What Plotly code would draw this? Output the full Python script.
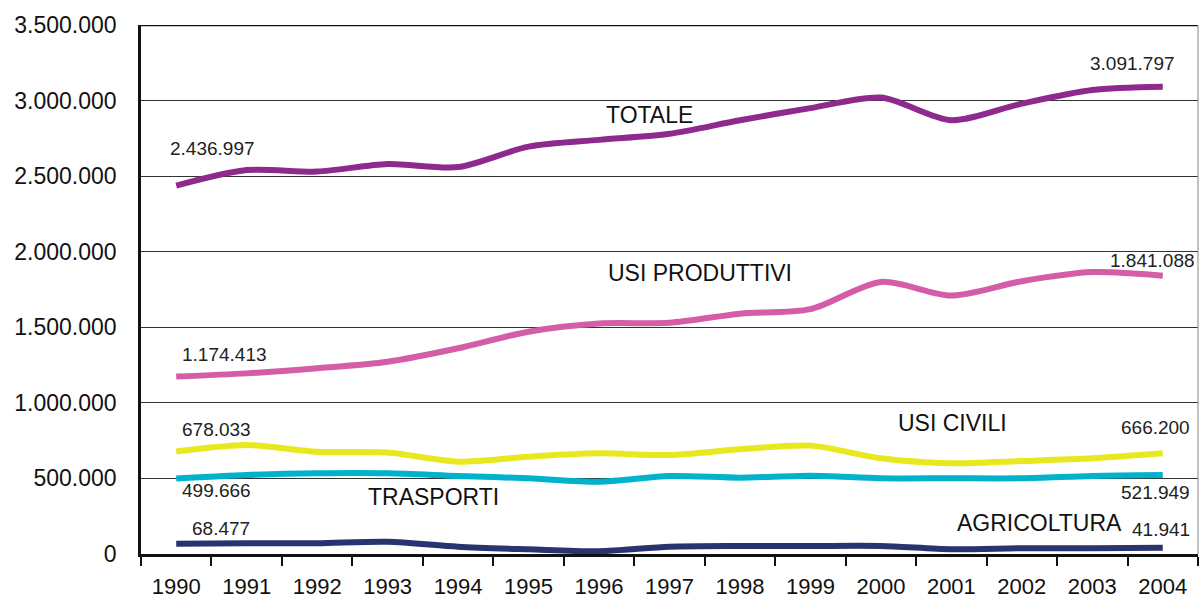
import plotly.graph_objects as go

years = [str(y) for y in range(1990, 2005)]

totale = [2436997, 2540000, 2530000, 2580000, 2560000, 2695000, 2740000, 2780000,
          2870000, 2950000, 3020000, 2870000, 2980000, 3070000, 3091797]
usi_produttivi = [1174413, 1195000, 1229000, 1272000, 1361000, 1471000, 1525000, 1530000,
                  1590000, 1620000, 1800000, 1710000, 1805000, 1865000, 1841088]
usi_civili = [678033, 721000, 677000, 671000, 611000, 644000, 666000, 655000,
              693000, 717000, 633000, 600000, 615000, 633000, 666200]
trasporti = [499666, 523000, 534000, 534000, 516000, 501000, 478000, 516000,
             505000, 518000, 501000, 501000, 501000, 516000, 521949]
agricoltura = [68477, 71000, 71000, 81000, 48000, 31000, 18000, 48000,
               53000, 53000, 53000, 31000, 38000, 38000, 41941]

y_ticks = [0, 500000, 1000000, 1500000, 2000000, 2500000, 3000000, 3500000]

series = [
    ("TOTALE", totale, "#8E2A8E"),
    ("USI PRODUTTIVI", usi_produttivi, "#D45CA8"),
    ("USI CIVILI", usi_civili, "#E8E81E"),
    ("TRASPORTI", trasporti, "#00B2CC"),
    ("AGRICOLTURA", agricoltura, "#283370"),
]


def fmt(v):
    return f"{v:,}".replace(",", ".")


fig = go.Figure()
for name, vals, col in series:
    fig.add_trace(go.Scatter(
        x=years, y=vals, mode="lines", name=name,
        line=dict(color=col, width=6, shape="spline", smoothing=0.8),
        hoverinfo="skip",
    ))

# label placements: (text, x index, y value)
label_font = dict(family="Liberation Sans, Arial, sans-serif", size=19, color="#222222")
name_font = dict(family="Liberation Sans, Arial, sans-serif", size=23, color="#111111")

value_labels = [
    (fmt(totale[0]), 0.51, 2686000),
    (fmt(totale[-1]), 13.57, 3248000),
    (fmt(usi_produttivi[0]), 0.68, 1323000),
    (fmt(usi_produttivi[-1]), 13.86, 1945000),
    (fmt(usi_civili[0]), 0.57, 827000),
    (fmt(usi_civili[-1]), 13.89, 834000),
    (fmt(trasporti[0]), 0.57, 423000),
    (fmt(trasporti[-1]), 13.89, 404000),
    (fmt(agricoltura[0]), 0.64, 172000),
    (fmt(agricoltura[-1]), 13.98, 165000),
]
name_labels = [
    ("TOTALE", 6.72, 2904000),
    ("USI PRODUTTIVI", 7.43, 1859000),
    ("USI CIVILI", 11.02, 867000),
    ("TRASPORTI", 3.65, 377000),
    ("AGRICOLTURA", 12.25, 205000),
]

for txt, xi, yv in value_labels:
    fig.add_annotation(x=xi, y=yv, xref="x", yref="y", text=txt, showarrow=False,
                       font=label_font, xanchor="center", yanchor="middle")
for txt, xi, yv in name_labels:
    fig.add_annotation(x=xi, y=yv, xref="x", yref="y", text=txt, showarrow=False,
                       font=name_font, xanchor="center", yanchor="middle")

# top and right frame
fig.add_shape(type="line", xref="paper", yref="y", x0=0, x1=1, y0=3500000, y1=3500000,
              line=dict(color="#111111", width=2.5), layer="above")
fig.add_shape(type="line", xref="paper", yref="paper", x0=1, x1=1, y0=0, y1=1,
              line=dict(color="#888888", width=1), layer="above")

fig.update_layout(
    width=1200, height=602,
    margin=dict(l=141, r=2, t=25, b=48),
    paper_bgcolor="white", plot_bgcolor="white",
    showlegend=False,
    separators=",.",
    font=dict(family="Liberation Sans, Arial, sans-serif", color="#222222"),
)
fig.update_xaxes(
    type="category", categoryorder="array", categoryarray=years,
    range=[-0.5, 14.5], automargin=False,
    tickson="boundaries", ticks="outside", ticklen=9, tickwidth=1.5, tickcolor="#111111",
    showline=True, linecolor="#111111", linewidth=2.5,
    showgrid=False, tickfont=dict(size=22, color="#111111"),
    ticklabelstandoff=11,
)
fig.update_yaxes(
    range=[0, 3500000], tickvals=y_ticks, tickformat=",d", automargin=False,
    showline=True, linecolor="#111111", linewidth=2.5,
    showgrid=True, gridcolor="#333333", gridwidth=1.2,
    ticks="", tickfont=dict(size=23, color="#111111"),
    ticklabelstandoff=17, zeroline=False,
)

fig.write_html("out.html", config={"displayModeBar": False},
               post_script="document.body.style.margin='0';document.body.style.overflow='hidden';")
